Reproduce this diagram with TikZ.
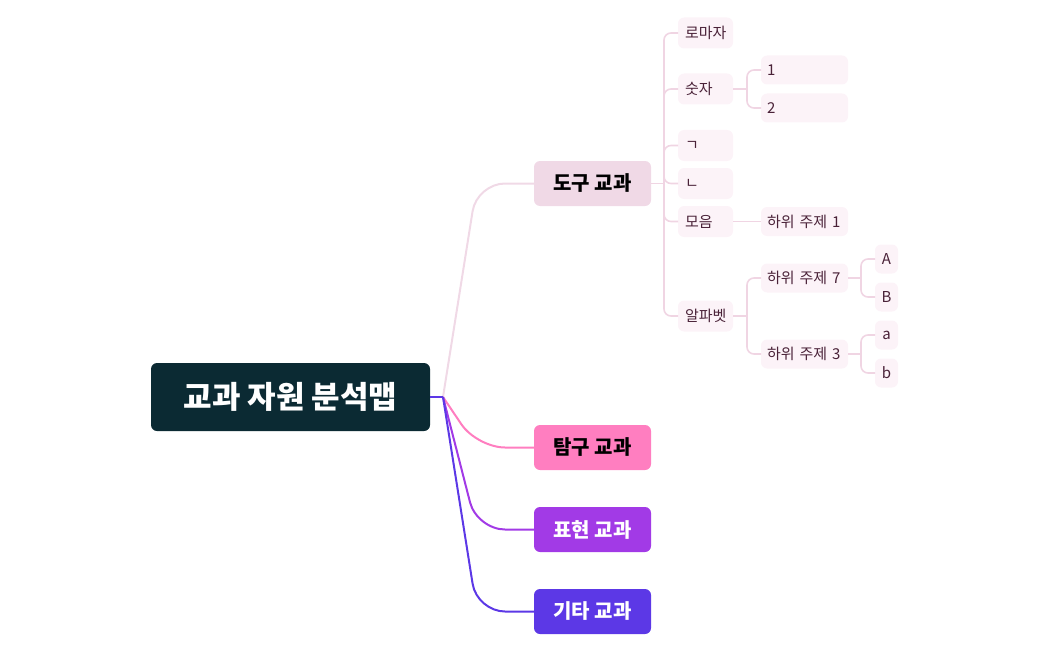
\documentclass[tikz,border=0pt]{standalone}
\usepackage{fontspec}
\setmainfont{Noto Sans CJK KR}
\usetikzlibrary{positioning}

\definecolor{rootbg}{HTML}{0B2A33}
\definecolor{dogubg}{HTML}{F0D9E6}
\definecolor{tamgubg}{HTML}{FF7EC0}
\definecolor{pyobg}{HTML}{A23AE6}
\definecolor{gitabg}{HTML}{5C38E6}
\definecolor{leafbg}{HTML}{FCF3F8}
\definecolor{leaftext}{HTML}{4A2238}
\definecolor{leafline}{HTML}{F0D5E3}

\begin{document}
\begin{tikzpicture}[
            x = 1pt, y = -1pt, % pixel grid, y pointing down
            line width = 2pt, % connector width
            every node/.style = {outer sep = 0pt},
            root/.style = {fill = rootbg, text = white, rounded corners = 6pt,
                minimum width = 279pt, minimum height = 68pt, inner sep = 0pt,
                font = \bfseries\fontsize{31}{36}\selectfont},
            topic/.style = {rounded corners = 6pt, minimum width = 117pt,
                minimum height = 45pt, inner sep = 0pt,
                font = \bfseries\fontsize{20}{24}\selectfont},
            sub/.style = {fill = leafbg, text = leaftext, rounded corners = 6pt,
                minimum height = 31pt, inner xsep = 7pt, inner ysep = 0pt,
                text width = 41pt, align = left,
                font = \fontsize{15}{18}\selectfont},
            subsub/.style = {sub, minimum height = 29pt, inner xsep = 6pt, text width = 75pt},
            leaf/.style = {sub, minimum height = 29pt, inner xsep = 0pt, text width = 23pt, align = center},
            link/.style = {draw = leafline, line width = 1.6pt, rounded corners = 7pt}
        ]

        \useasboundingbox (0,0) rectangle (1049,650);

        \node[root] (map) at (290.5,397) {교과 자원 분석맵};

        \node[topic, fill = tamgubg] (tamgu) [right = 104pt of map, yshift = -50.5pt] {탐구 교과};
        \node[topic, fill = pyobg, text = white] (pyohyeon) [below = 37pt of tamgu] {표현 교과};
        \node[topic, fill = gitabg, text = white] (gita) [below = 37pt of pyohyeon] {기타 교과};
        \node[topic, fill = dogubg] (dogu) [above = 219pt of tamgu] {도구 교과};

        \node[sub] (nieun) [right = 27pt of dogu] {ㄴ};
        \node[sub] (giyeok) [above = 7pt of nieun] {ㄱ};
        \node[sub] (sutja) [above = 25.5pt of giyeok] {숫자};
        \node[sub] (roma) [above = 25pt of sutja] {로마자};
        \node[sub] (moeum) [below = 7pt of nieun] {모음};
        \node[sub] (alpha) [below = 63.5pt of moeum] {알파벳};

        \node[subsub] (one) [right = 28pt of sutja, yshift = 19pt] {1};
        \node[subsub] (two) [below = 9pt of one] {2};
        \node[subsub] (topic1) [right = 28pt of moeum] {하위 주제 1};
        \node[subsub] (topic7) [right = 28pt of alpha, yshift = 38pt] {하위 주제 7};
        \node[subsub] (topic3) [below = 47pt of topic7] {하위 주제 3};

        \node[leaf] (bigA) [right = 27pt of topic7, yshift = 19pt] {A};
        \node[leaf] (bigB) [below = 9pt of bigA] {B};
        \node[leaf] (smalla) [right = 27pt of topic3, yshift = 19pt] {a};
        \node[leaf] (smallb) [below = 9pt of smalla] {b};

        % forks where the branches split
        \coordinate[right = 13pt of map] (mapfork);
        \coordinate (bend) at (477,0);
        \coordinate[right = 13pt of dogu] (dogufork);
        \coordinate[right = 14pt of sutja] (sutjafork);
        \coordinate[right = 14pt of alpha] (alphafork);
        \coordinate[right = 13pt of topic7] (topic7fork);
        \coordinate[right = 13pt of topic3] (topic3fork);

        \foreach \t/\c in {dogu/dogubg, tamgu/tamgubg, pyohyeon/pyobg, gita/gitabg} {
            \draw[\c] (map.east) -- (mapfork);
            \draw[\c, rounded corners = 28pt] (mapfork) -- (\t.west -| bend) -- (\t.west);
        }

        \draw[link] (dogu.east) -- (dogufork);
        \foreach \c in {roma, sutja, giyeok, nieun, moeum, alpha}
            \draw[link] (dogufork) |- (\c.west);

        \draw[link] (sutja.east) -- (sutjafork);
        \foreach \c in {one, two}
            \draw[link] (sutjafork) |- (\c.west);

        \draw[link] (moeum) -- (topic1);

        \draw[link] (alpha.east) -- (alphafork);
        \foreach \c in {topic7, topic3}
            \draw[link] (alphafork) |- (\c.west);

        \draw[link] (topic7.east) -- (topic7fork);
        \foreach \c in {bigA, bigB}
            \draw[link] (topic7fork) |- (\c.west);

        \draw[link] (topic3.east) -- (topic3fork);
        \foreach \c in {smalla, smallb}
            \draw[link] (topic3fork) |- (\c.west);

  \end{tikzpicture}
\end{document}
